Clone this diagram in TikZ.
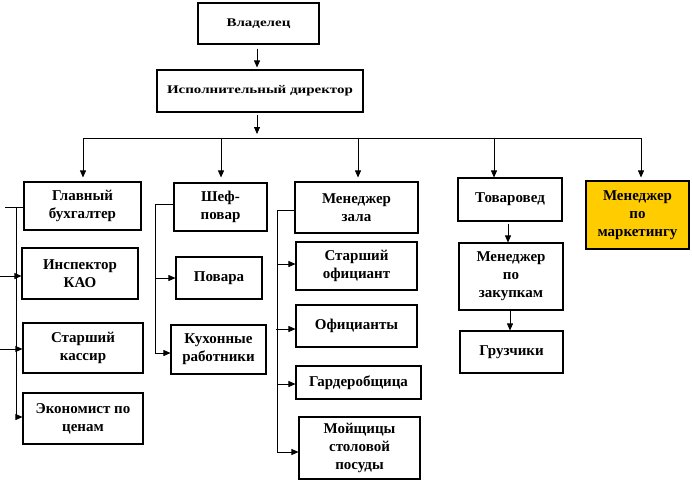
\documentclass[tikz,border=0pt]{standalone}
\usepackage{fontspec}
\setmainfont{Liberation Serif}
\usepackage{graphicx}
\usetikzlibrary{arrows.meta}
\definecolor{mktyellow}{RGB}{255,204,0}
\begin{document}
\begin{tikzpicture}[x=1pt,y=-1pt,
  box/.style={draw, line width=1.1pt, inner sep=0pt, align=center,
    font=\bfseries\fontsize{15}{18}\selectfont},
  conn/.style={line width=0.75pt},
  arr/.style={conn, -{Triangle[length=7pt,width=6pt]}}]
\useasboundingbox (0,0) rectangle (692,482);

% top
\node[box, minimum width=121pt, minimum height=41pt] (own) at (258.5,23.5) {\scalebox{1}[0.78]{Владелец}};
\node[box, minimum width=206pt, minimum height=42pt] (exec) at (260,91) {\scalebox{1}[0.78]{Исполнительный директор}};

% second level
\node[box, minimum width=117pt, minimum height=48pt] (acc) at (82.5,206) {Главный\\бухгалтер};
\node[box, minimum width=93pt, minimum height=48pt] (chef) at (220.5,207) {Шеф-\\повар};
\node[box, minimum width=123pt, minimum height=51pt] (hall) at (356.5,207.5) {Менеджер\\зала};
\node[box, minimum width=104pt, minimum height=43pt] (merch) at (510,199.5) {Товаровед};
\node[box, fill=mktyellow, minimum width=103pt, minimum height=68pt] (mkt) at (637.5,215) {Менеджер\\по\\маркетингу};

% accountant group
\node[box, minimum width=116pt, minimum height=51pt] (insp) at (80,273.5) {Инспектор\\КАО};
\node[box, minimum width=120pt, minimum height=50pt] (cash) at (83,348) {Старший\\кассир};
\node[box, minimum width=120pt, minimum height=51pt] (econ) at (83,418.5) {Экономист по\\ценам};

% chef group
\node[box, minimum width=86pt, minimum height=42pt] (cooks) at (219,278) {Повара};
\node[box, minimum width=95pt, minimum height=49pt] (kitch) at (218.5,349.5) {Кухонные\\работники};

% hall group
\node[box, minimum width=121pt, minimum height=48pt] (headw) at (356.5,266) {Старший\\официант};
\node[box, minimum width=121pt, minimum height=42pt] (waiters) at (356.5,326) {Официанты};
\node[box, minimum width=125pt, minimum height=33pt] (cloak) at (358.5,382.5) {Гардеробщица};
\node[box, minimum width=121pt, minimum height=62pt] (wash) at (359.5,448) {Мойщицы\\столовой\\посуды};

% merchandiser group
\node[box, minimum width=104pt, minimum height=67pt] (purch) at (511,276.5) {Менеджер\\по\\закупкам};
\node[box, minimum width=103pt, minimum height=42pt] (load) at (511.5,352) {Грузчики};

% coordinates
\coordinate (mx) at (257,0);
\coordinate (busL) at (83,138);
\coordinate (busR) at (641,138);
\coordinate (b2) at (221,138);
\coordinate (b3) at (358,138);
\coordinate (b4) at (494,138);
\coordinate (aL) at (0,0);
\coordinate (aH) at (5,0);
\coordinate (aV) at (16,0);
\coordinate (cV) at (155,0);
\coordinate (hV) at (277,0);
\coordinate (hVl) at (276,0);
\coordinate (tx1) at (508,0);
\coordinate (tx2) at (510,0);

\coordinate (accW) at ([yshift=-1pt]acc.west);
\coordinate (inspW) at ([yshift=-2.5pt]insp.west);
\coordinate (cashW) at ([yshift=-1pt]cash.west);
\coordinate (econW) at ([yshift=1.5pt]econ.west);
\coordinate (chefW) at ([yshift=3pt]chef.west);
\coordinate (kitchW) at ([yshift=-3.5pt]kitch.west);
\coordinate (hallW) at ([yshift=-2.5pt]hall.west);
\coordinate (headwW) at ([yshift=2pt]headw.west);
\coordinate (waitW) at ([yshift=-3pt]waiters.west);
\coordinate (cloakW) at ([yshift=-1.5pt]cloak.west);
\coordinate (washW) at ([yshift=-4pt]wash.west);

% top connectors
\draw[arr, shorten <=4pt, shorten >=2pt] (mx |- own.south) -- (mx |- exec.north);
\draw[arr, shorten <=2pt, shorten >=4pt] (mx |- exec.south) -- (mx |- busL);
\draw[conn] (busL) -- (busR);
\draw[arr, shorten >=4pt] (busL) -- (busL |- acc.north);
\draw[arr, shorten >=5pt] (b2) -- (b2 |- chef.north);
\draw[arr, shorten >=4pt] (b3) -- (b3 |- hall.north);
\draw[arr] (b4) -- (b4 |- merch.north);
\draw[arr, shorten >=3pt] (busR) -- (busR |- mkt.north);

% accountant connectors
\draw[conn] (accW) -- (aH |- accW);
\draw[conn] (aV |- accW) -- (aV |- econW);
\draw[arr] (aL |- inspW) -- (inspW);
\draw[arr] (aL |- cashW) -- (cashW);
\draw[arr] (aV |- econW) -- (econW);

% chef connectors
\draw[conn] (chefW) -- (cV |- chefW) -- (cV |- kitchW);
\draw[arr] (cV |- cooks.west) -- (cooks.west);
\draw[arr] (cV |- kitchW) -- (kitchW);

% hall connectors
\draw[conn] (hallW) -- (hV |- hallW) -- (hV |- washW);
\draw[arr] (hV |- headwW) -- (headwW);
\draw[arr] (hVl |- waitW) -- (waitW);
\draw[arr] (hV |- cloakW) -- (cloakW);
\draw[arr] (hV |- washW) -- (washW);

% merchandiser connectors
\draw[arr, shorten <=2pt] (tx1 |- merch.south) -- (tx1 |- purch.north);
\draw[arr] (tx2 |- purch.south) -- (tx2 |- load.north);
\end{tikzpicture}
\end{document}
